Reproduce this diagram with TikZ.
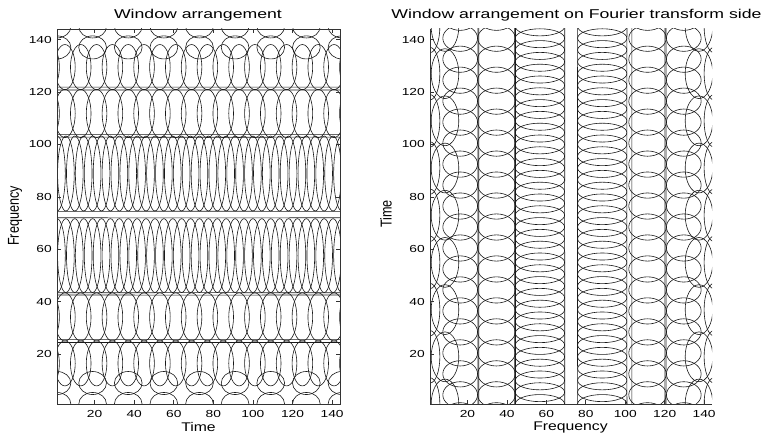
\documentclass[tikz,border=0pt]{standalone}
\usepackage{fontspec}
\setmainfont{Liberation Sans}
\begin{document}
\begin{tikzpicture}[x=1pt,y=-1pt,
  win/.style={line width=0.6pt, draw=black!90},
  frame/.style={line width=0.7pt, draw=black!80},
  ticklab/.style={font=\fontsize{10.2}{12}\selectfont, xscale=1.35, inner sep=0pt},
  axlab/.style={font=\fontsize{12.6}{14}\selectfont, xscale=1.25, inner sep=0pt},
  ttl/.style={font=\fontsize{12.8}{14}\selectfont, xscale=1.38, inner sep=0pt}]
\useasboundingbox (0,0) rectangle (763,436);

% ---------------- left panel ----------------
\begin{scope}
\clip (57,29) rectangle (340,404);
\begin{scope}[shift={(55.02,406.62)}, x=1.979pt, y=2.622pt]
  \foreach \k in {0,...,8}{
    \foreach \f in {1,9,137,145}{
      \draw[win] ({1+18*\k},\f) ellipse [x radius=7, y radius=4.4];
    }
  }
  \foreach \k in {-1,...,18}{
    \draw[win] ({5+8*\k},16.5) ellipse [x radius=5.2, y radius=8.6];
    \draw[win] ({5+8*\k},34.2) ellipse [x radius=5.2, y radius=9.2];
    \draw[win] ({5+8*\k},129.5) ellipse [x radius=5.2, y radius=8.6];
    \draw[win] ({5+8*\k},111.8) ellipse [x radius=5.2, y radius=9.2];
  }
  \foreach \k in {-1,...,33}{
    \draw[win] ({1+4.5*\k},57.6) ellipse [x radius=4.2, y radius=14.1];
    \draw[win] ({1+4.5*\k},88.9) ellipse [x radius=4.2, y radius=14.3];
  }
  \foreach \f/\r in {25/0.55,43/0.45,73.25/1.25,103.3/0.55,121.3/0.55}{
    \draw[win] (72.5,\f) ellipse [x radius=300, y radius=\r];
  }
\end{scope}
\end{scope}
\begin{scope}[shift={(55.02,406.62)}, x=1.979pt, y=2.622pt]
  \foreach \v in {20,40,...,140}{
    \draw[frame] (\v,1) -- ++(0,1.5);
    \draw[frame] (\v,144) -- ++(0,-1.5);
    \draw[frame] (1,\v) -- ++(2,0);
    \draw[frame] (144,\v) -- ++(-2,0);
    \node[ticklab, anchor=north] at (\v,-1.5) {\v};
    \node[ticklab, anchor=east] at (-1.5,\v) {\v};
  }
\end{scope}
\draw[frame] (57,29) rectangle (340,404);
\node[ttl] (t1) at (198,15) {Window arrangement};
\node[axlab] (xl1) at (198.5,427) {Time};
\node[axlab, rotate=90] (yl1) at (15,216) {Frequency};

% ---------------- right panel ----------------
\begin{scope}
\clip (430,29) rectangle (712,404);
\begin{scope}[shift={(428.03,406.62)}, x=1.972pt, y=2.622pt]
  \foreach \k in {-1,...,9}{
    \foreach \x in {1,145}{
      \draw[win] (\x,{1+18*\k}) ellipse [x radius=5, y radius=10];
    }
    \foreach \x in {8.6,137.4}{
      \draw[win] (\x,{1+18*\k}) ellipse [x radius=7, y radius=9.5];
    }
  }
  \foreach \k in {-1,...,18}{
    \draw[win] (16.3,{4.5+8*\k}) ellipse [x radius=8.8, y radius=5];
    \draw[win] (34.7,{4.5+8*\k}) ellipse [x radius=9.5, y radius=5];
    \draw[win] (129.7,{4.5+8*\k}) ellipse [x radius=8.8, y radius=5];
    \draw[win] (111.3,{4.5+8*\k}) ellipse [x radius=9.5, y radius=5];
  }
  \foreach \k in {-1,...,33}{
    \draw[win] (56.75,{1+4.5*\k}) ellipse [x radius=12.5, y radius=3.6];
    \draw[win] (88.35,{1+4.5*\k}) ellipse [x radius=12.5, y radius=3.6];
  }
  \foreach \x/\r in {25.5/0.25,44.2/0.25,72.55/3.25,102.1/1.25,120.4/0.3}{
    \draw[win] (\x,72.5) ellipse [x radius=\r, y radius=400];
  }
\end{scope}
\end{scope}
\begin{scope}[shift={(428.03,406.62)}, x=1.972pt, y=2.622pt]
  \foreach \v in {20,40,...,140}{
    \draw[frame] (\v,1) -- ++(0,1.5);
    \draw[frame] (1,\v) -- ++(2,0);
    \node[ticklab, anchor=north] at (\v,-1.5) {\v};
    \node[ticklab, anchor=east] at (-1.5,\v) {\v};
  }
\end{scope}
\draw[frame] (430,29) -- (430,404) -- (712,404);
\node[ttl] (t2) at (576.5,15) {Window arrangement on Fourier transform side};
\node[axlab] (xl2) at (570.5,427) {Frequency};
\node[axlab, rotate=90] (yl2) at (386,214) {Time};
\end{tikzpicture}
\end{document}
